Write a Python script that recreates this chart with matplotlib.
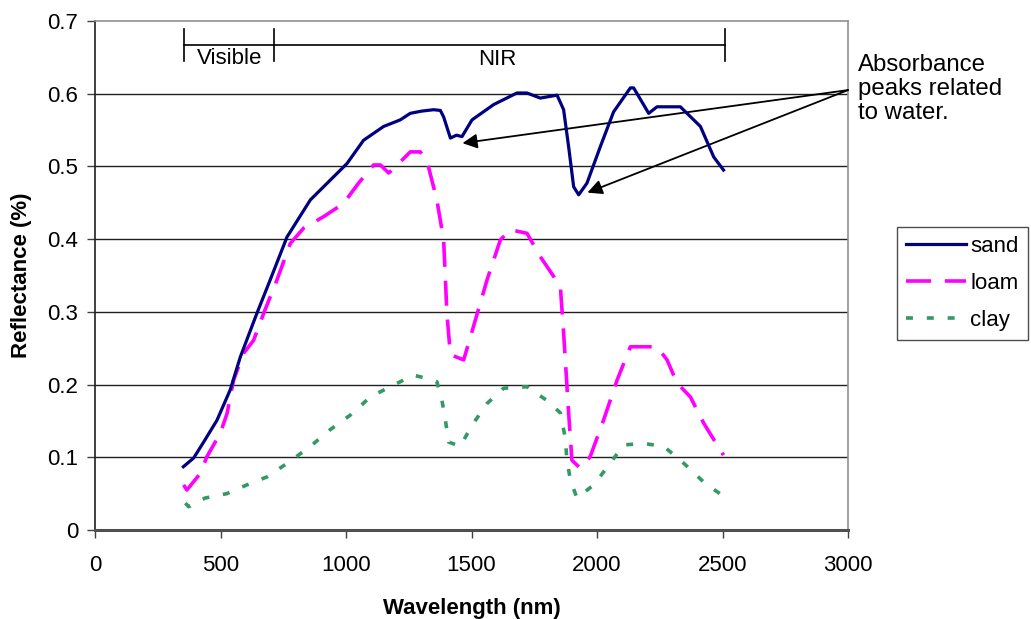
import matplotlib
matplotlib.use("Agg")
import matplotlib.pyplot as plt

plt.rcParams['font.family'] = ['Liberation Sans', 'DejaVu Sans']
plt.rcParams['lines.scale_dashes'] = False

# Soil reflectance spectra (wavelength in nm, reflectance)
sand_nm = [352, 393, 433, 486, 539, 579, 645, 698, 765, 858, 1004, 1070, 1150,
           1216, 1256, 1300, 1349, 1376, 1389, 1416, 1440, 1462, 1502, 1588, 1681,
           1721, 1774, 1841, 1867, 1887, 1907, 1927, 1960, 2013, 2066, 2133, 2146,
           2206, 2239, 2332, 2412, 2465, 2504]
sand_r = [0.087, 0.099, 0.121, 0.151, 0.193, 0.238, 0.298, 0.344, 0.403, 0.454,
          0.504, 0.536, 0.555, 0.564, 0.573, 0.576, 0.578, 0.577, 0.568, 0.539,
          0.543, 0.541, 0.564, 0.585, 0.601, 0.601, 0.594, 0.598, 0.578, 0.527,
          0.472, 0.461, 0.477, 0.527, 0.575, 0.608, 0.608, 0.573, 0.582, 0.582,
          0.555, 0.513, 0.495]

loam_nm = [353, 366, 420, 446, 499, 526, 552, 592, 632, 672, 725, 778, 831, 911,
           990, 1050, 1110, 1137, 1170, 1190, 1256, 1296, 1323, 1362, 1389, 1402,
           1416, 1469, 1508, 1562, 1615, 1655, 1721, 1774, 1854, 1867, 1887, 1900,
           1933, 1973, 2026, 2080, 2133, 2173, 2239, 2279, 2319, 2372, 2425, 2491,
           2504]
loam_r = [0.062, 0.055, 0.078, 0.101, 0.133, 0.160, 0.206, 0.243, 0.261, 0.298,
          0.344, 0.394, 0.415, 0.431, 0.449, 0.477, 0.502, 0.502, 0.491, 0.497,
          0.520, 0.520, 0.507, 0.454, 0.399, 0.298, 0.241, 0.234, 0.280, 0.344,
          0.399, 0.413, 0.408, 0.376, 0.335, 0.271, 0.161, 0.096, 0.085, 0.101,
          0.151, 0.206, 0.252, 0.252, 0.252, 0.234, 0.202, 0.183, 0.147, 0.110,
          0.103]

clay_nm = [360, 373, 439, 525, 605, 685, 771, 858, 937, 1017, 1097, 1176, 1269,
           1349, 1362, 1382, 1396, 1409, 1455, 1502, 1562, 1628, 1721, 1801, 1854,
           1874, 1880, 1894, 1920, 1987, 2053, 2106, 2186, 2266, 2345, 2431, 2498]
clay_r = [0.037, 0.032, 0.044, 0.050, 0.062, 0.073, 0.093, 0.115, 0.138, 0.158,
          0.183, 0.197, 0.213, 0.206, 0.204, 0.179, 0.151, 0.121, 0.115, 0.144,
          0.174, 0.195, 0.197, 0.178, 0.161, 0.126, 0.096, 0.069, 0.044, 0.062,
          0.092, 0.117, 0.119, 0.115, 0.092, 0.064, 0.048]

x_ticks = [0, 500, 1000, 1500, 2000, 2500, 3000]
y_ticks = [0, 0.1, 0.2, 0.3, 0.4, 0.5, 0.6, 0.7]

# Spectral regions drawn as a bracket along the top
visible_range = (355, 715)
nir_range = (715, 2510)

FS = 16

fig = plt.figure(figsize=(10.31, 6.19), dpi=100)
ax = fig.add_axes([95 / 1031, 89 / 619, 753 / 1031, 509 / 619])

ax.set_xlim(0, 3000)
ax.set_ylim(0, 0.7)

for yv in y_ticks[1:-1]:
    ax.axhline(yv, color='#202020', lw=1.0, zorder=1)

ax.plot(sand_nm, sand_r, color='#000080', lw=2.3, label='sand', zorder=4,
        solid_joinstyle='round')
ax.plot(loam_nm, loam_r, color='#FF00FF', lw=2.6, dashes=(18, 10), label='loam', zorder=3)
ax.plot(clay_nm, clay_r, color='#339966', lw=2.6, dashes=(5, 10), label='clay', zorder=3)

ax.set_xticks(x_ticks)
ax.set_xticklabels([str(v) for v in x_ticks])
ax.set_yticks(y_ticks)
ax.set_yticklabels(['0'] + [f'{v:.1f}' for v in y_ticks[1:]])
ax.tick_params(axis='both', direction='out', length=6, width=1, labelsize=FS,
               color='#404040')
ax.tick_params(axis='x', pad=12)
ax.tick_params(axis='y', pad=6)

ax.spines['left'].set_color('#202020')
ax.spines['left'].set_linewidth(1.2)
ax.spines['bottom'].set_color('#505050')
ax.spines['bottom'].set_linewidth(2.2)
ax.spines['top'].set_color('#909090')
ax.spines['top'].set_linewidth(1.2)
ax.spines['right'].set_color('#909090')
ax.spines['right'].set_linewidth(1.2)

ax.set_xlabel('Wavelength (nm)', fontsize=FS, fontweight='bold', labelpad=16)
ax.set_ylabel('Reflectance (%)', fontsize=FS, fontweight='bold', labelpad=11)

# Visible / NIR bracket
yb = 0.667
tick_half = 0.022
ax.plot([visible_range[0], nir_range[1]], [yb, yb], color='black', lw=1.2, zorder=5)
for xv in (visible_range[0], visible_range[1], nir_range[1]):
    ax.plot([xv, xv], [yb - tick_half, yb + tick_half], color='black', lw=1.2, zorder=5)
ax.text(sum(visible_range) / 2, yb - 0.004, 'Visible', ha='center', va='top', fontsize=FS)
ax.text(sum(nir_range) / 2 - 10, yb - 0.006, 'NIR', ha='center', va='top', fontsize=FS)

# Water absorption annotation
ax.text(3040, 0.607, 'Absorbance\npeaks related\nto water.', ha='left', va='center',
        fontsize=17.3, linespacing=1.12, clip_on=False)
for target in [(1464, 0.532), (1962, 0.464)]:
    ax.annotate('', xy=target, xytext=(3000, 0.605), xycoords='data',
                annotation_clip=False,
                arrowprops=dict(arrowstyle='-|>', color='black', lw=1.3,
                                mutation_scale=22, shrinkA=0, shrinkB=0))

leg = ax.legend(loc='upper left', bbox_to_anchor=(897 / 1031, (619 - 227) / 619),
                bbox_transform=fig.transFigure, fontsize=FS, frameon=True,
                fancybox=False, edgecolor='#202020', handlelength=2.7,
                handletextpad=0.2, borderpad=0.4, borderaxespad=0,
                labelspacing=0.72)
leg.get_frame().set_linewidth(1.0)

fig.savefig('out.png', dpi=100)
